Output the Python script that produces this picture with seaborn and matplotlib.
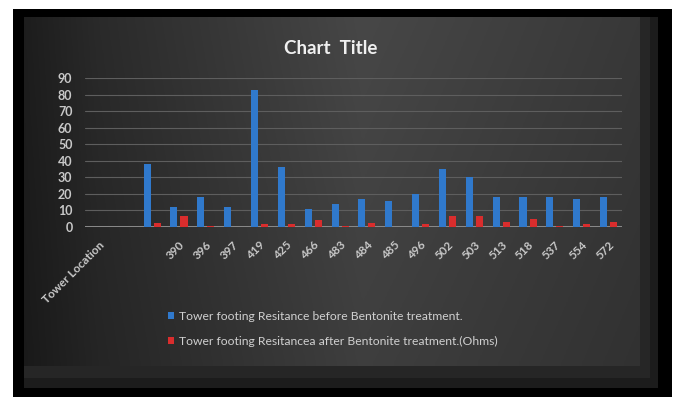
import numpy as np
import pandas as pd
import matplotlib
matplotlib.use("Agg")
import matplotlib.pyplot as plt
import matplotlib.transforms as mtransforms
from matplotlib.patches import Rectangle
import seaborn as sns

# ---------------- data ----------------
locations = ["Tower Location", "blank1", "blank2", "390", "396", "397", "419", "425",
             "466", "483", "484", "485", "496", "502", "503", "513", "518", "537",
             "554", "572"]
tick_labels = ["Tower Location", "", "", "390", "396", "397", "419", "425",
               "466", "483", "484", "485", "496", "502", "503", "513", "518", "537",
               "554", "572"]
before = [0, 0, 38, 12, 18, 12, 83, 36, 11, 14, 17, 16, 20, 35, 30, 18, 18, 18, 17, 18]
after = [0, 0, 2.5, 6.5, 0.5, 0.3, 2, 2, 4.5, 0.5, 2.5, 0.3, 2, 6.5, 6.5, 3, 5, 0.5, 2, 3]
series_before = "Tower footing Resitance before Bentonite treatment."
series_after = "Tower footing Resitancea after Bentonite treatment.(Ohms)"
y_ticks = [0, 10, 20, 30, 40, 50, 60, 70, 80, 90]
title = "Chart  Title"

df = pd.DataFrame({
    "location": locations * 2,
    "value": before + after,
    "series": [series_before] * len(locations) + [series_after] * len(locations),
})

# ---------------- style ----------------
sns.set_theme(style="dark")
plt.rcParams['font.family'] = ['Lato', 'DejaVu Sans']

W, H = 678, 397
fig = plt.figure(figsize=(W / 100, H / 100), dpi=100, facecolor="white")


def fx(x):
    return x / W


def fy(y):
    return 1 - y / H


# black outer frame
fig.patches.append(Rectangle((fx(13), 0), fx(672) - fx(13), fy(9), transform=fig.transFigure,
                             facecolor="black", edgecolor="none", zorder=-10))
# soft shadow strips (right and bottom)
fig.patches.append(Rectangle((fx(24), fy(388)), fx(658) - fx(24), fy(17) - fy(388),
                             transform=fig.transFigure, facecolor="#1c1c1c",
                             edgecolor="none", zorder=-9))
fig.patches.append(Rectangle((fx(24), fy(378)), fx(650) - fx(24), fy(17) - fy(378),
                             transform=fig.transFigure, facecolor="#262626",
                             edgecolor="none", zorder=-8))

# gradient panel
bg = fig.add_axes([fx(24), fy(366), fx(640) - fx(24), fy(17) - fy(366)], zorder=-5)
nx, ny = 300, 60
xs = np.linspace(0, 1, nx)
ys = np.linspace(0, 1, ny)
lum_x = np.interp(xs, [0, 0.12, 0.55, 1.0], [0x1d, 0x2a, 0x47, 0x38]) / 255
lum = lum_x[None, :] * (1 - 0.12 * ys[:, None])
img = np.dstack([lum, lum, lum])
bg.imshow(img, aspect="auto", extent=[0, 1, 0, 1], origin="upper")
bg.set_axis_off()

# main axes
ax = fig.add_axes([fx(85), fy(227), fx(622) - fx(85), fy(78) - fy(227)])
ax.set_facecolor("none")
ax.patch.set_alpha(0)

sns.barplot(data=df, x="location", y="value", hue="series", order=locations,
            hue_order=[series_before, series_after], palette=["#3079cc", "#d92d2d"],
            width=0.75, gap=0.3, saturation=1, linewidth=0, ax=ax, legend=True)

ax.set_ylim(0, 90)
ax.set_xlim(-0.5, len(locations) - 0.5)
ax.set_yticks(y_ticks)
ax.set_yticklabels([str(v) for v in y_ticks], fontsize=9, color="#c8c8c8", fontweight="bold")
ax.set_xticks(range(len(locations)))
ax.set_xticklabels(tick_labels, rotation=45, ha="right", rotation_mode="anchor",
                   fontsize=8.5, color="#c8c8c8", fontweight="bold")
offset = mtransforms.ScaledTranslation(4 / 100, 0, fig.dpi_scale_trans)
for lbl in ax.get_xticklabels():
    lbl.set_transform(lbl.get_transform() + offset)
ax.tick_params(axis="both", length=0)
ax.tick_params(axis="y", pad=9)
ax.tick_params(axis="x", pad=9)
ax.set_xlabel("")
ax.set_ylabel("")
for s in ax.spines.values():
    s.set_visible(False)
ax.grid(axis="y", color="#5e5e5e", linewidth=0.8)
ax.grid(axis="x", visible=False)
ax.set_axisbelow(True)
ax.axhline(0, color="#8e8e8e", linewidth=1.4, zorder=0.5)

handles, labels = ax.get_legend_handles_labels()
ax.legend(handles, labels, loc="upper left", bbox_to_anchor=(fx(168), fy(311)),
          bbox_transform=fig.transFigure, frameon=False, fontsize=8.7,
          labelcolor="#d0d0d0", handlelength=0.5, handleheight=0.5,
          handletextpad=0.4, labelspacing=1.15, borderpad=0, borderaxespad=0)

fig.text(fx(331), fy(48), title, ha="center", va="center", fontsize=13.5,
         fontweight="bold", color="#f0f0f0")

fig.savefig("out.png", dpi=100, facecolor="white")
